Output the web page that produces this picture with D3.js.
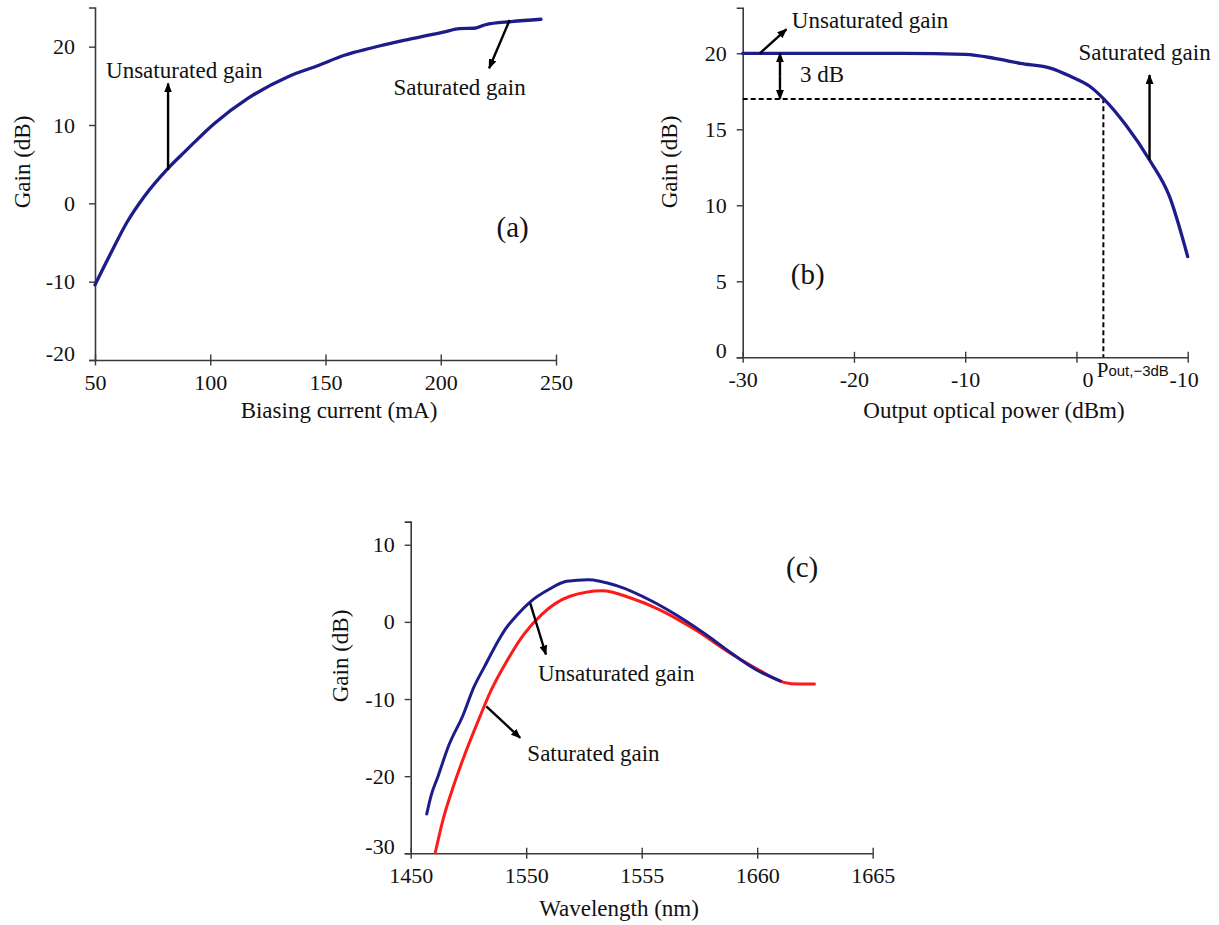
<!DOCTYPE html>
<html>
<head>
<meta charset="utf-8">
<script src="https://cdn.jsdelivr.net/npm/d3@7"></script>
<style>
  html, body { margin: 0; padding: 0; background: #fff; }
  svg { display: block; }
  svg text { font-family: "Liberation Serif", "Times New Roman", Times, "DejaVu Serif", serif !important; fill: #111; }
  svg text tspan.sub { font-family: "Liberation Sans", "DejaVu Sans", sans-serif !important; }
</style>
</head>
<body>
<svg id="chart" width="1219" height="925"></svg>
<script>
// ---------- DATA ----------
// (a) Gain vs biasing current
const aCurrent = [50, 56.8, 64, 71.3, 81.7, 89, 101.8, 116.3, 134, 146.9, 158.2, 169.5, 185.6, 201.7, 208.1, 214.6, 219.4, 230.6, 243.5];
const aGain    = [-10.4, -6.4, -2.35, 0.85, 4.47, 6.6, 10.2, 13.4, 16.2, 17.6, 18.9, 19.8, 20.9, 21.9, 22.3, 22.35, 22.8, 23.2, 23.5];
const aXTicks = [50, 100, 150, 200, 250];
const aYTicks = [-20, -10, 0, 10, 20];

// (b) Gain vs output optical power
const bPower = [-30, -15.5, -10, -7.35, -5.06, -2.27, -0.47, 1.16, 2.47, 4.44, 6.57, 8.37, 10];
const bGain  = [20, 20, 19.93, 19.67, 19.34, 19.01, 18.46, 17.85, 16.99, 15.28, 12.98, 10.57, 6.62];
const bXTicks = [-30, -20, -10, 0, 10];
const bXTickLabels = ["-30", "-20", "-10", "0", "-10"];
const bYTicks = [0, 5, 10, 15, 20];
const bUnsatGain = 20;
const bSat3dBGain = 17;
const bPout3dB = 2.42;

// (c) Gain vs wavelength (axis ticks are equally spaced positions)
const cTickPos = [0, 1, 2, 3, 4];
const cTickLabels = ["1450", "1550", "1555", "1660", "1665"];
const cYTicks = [-30, -20, -10, 0, 10];
const cUnsatPos  = [0.139, 0.176, 0.237, 0.330, 0.453, 0.546, 0.639, 0.732, 0.824, 0.917, 1.041, 1.195, 1.350, 1.535, 1.782, 2.091, 2.307, 2.616, 2.771, 2.987, 3.203];
const cUnsatGain = [-24.9, -22.55, -20.0, -16.0, -12.1, -8.5, -5.8, -3.15, -0.85, 0.82, 2.67, 4.19, 5.26, 5.47, 4.7, 2.67, 0.82, -2.28, -4.0, -6.17, -7.67];
const cSatPos  = [0.213, 0.284, 0.361, 0.453, 0.577, 0.700, 0.824, 0.978, 1.133, 1.379, 1.658, 1.905, 2.152, 2.461, 2.771, 3.017, 3.234, 3.357, 3.496];
const cSatGain = [-29.9, -25.4, -21.7, -17.8, -13.1, -8.75, -5.3, -1.65, 0.95, 3.32, 4.05, 3.1, 1.6, -1.0, -4.1, -6.25, -7.85, -8.05, -8.05];

// ---------- DRAWING ----------
const svg = d3.select("#chart");
const NAVY = "#1c1c8a", RED = "#ff1a1a", AXIS = "#3a3a3a";
const fmt = d => String(d); // plain hyphen-minus like the reference

const defs = svg.append("defs");
defs.append("marker").attr("id", "ah")
  .attr("viewBox", "0 0 10 8").attr("refX", 9).attr("refY", 4)
  .attr("markerWidth", 10).attr("markerHeight", 8)
  .attr("markerUnits", "userSpaceOnUse").attr("orient", "auto-start-reverse")
  .append("path").attr("d", "M0,0 L10,4 L0,8 Z").attr("fill", "#000");

function panel(o) {
  const x = d3.scaleLinear().domain(o.xDomain).range(o.xRange);
  const y = d3.scaleLinear().domain(o.yDomain).range(o.yRange);
  const g = svg.append("g");
  const y0 = o.yRange[0];

  // x axis
  const xa = g.append("g").attr("transform", `translate(0,${y0})`)
    .call(d3.axisBottom(x).tickValues(o.xTicks).tickSize(0)
      .tickFormat((d, i) => o.xLabels ? o.xLabels[i] : fmt(d)));
  xa.attr("font-family", null).attr("font-size", null);
  xa.select(".domain").attr("stroke", AXIS).attr("stroke-width", 1.6);
  xa.selectAll(".tick").append("line").attr("y1", -5.5).attr("y2", 5.5)
    .attr("stroke", AXIS).attr("stroke-width", 1.4);
  xa.selectAll(".tick text").attr("y", 14).attr("dy", "0.71em")
    .style("font-size", "22px").attr("fill", "#111");
  if (o.xLabelDx) xa.selectAll(".tick text").attr("dx", (d, i) => o.xLabelDx[i] || 0);

  // y axis
  const ya = g.append("g").attr("transform", `translate(${o.xRange[0]},0)`)
    .call(d3.axisLeft(y).tickValues(o.yTicks).tickSize(6).tickPadding(o.yPad).tickFormat(fmt));
  ya.attr("font-family", null).attr("font-size", null);
  ya.select(".domain").attr("stroke", AXIS).attr("stroke-width", 1.6);
  ya.selectAll(".tick line").attr("stroke", AXIS).attr("stroke-width", 1.4);
  ya.selectAll(".tick text").style("font-size", "22px")
    .attr("fill", "#111").attr("dy", (d) => d === o.yDomain[0] ? "0.0em" : "0.32em");

  // axis titles
  g.append("text").attr("x", o.xTitlePos[0]).attr("y", o.xTitlePos[1])
    .attr("text-anchor", "middle").style("font-size", "23px").text(o.xTitle);
  g.append("text").attr("transform", `translate(${o.yTitlePos[0]},${o.yTitlePos[1]}) rotate(-90)`)
    .attr("text-anchor", "middle").style("font-size", "23px").text("Gain (dB)");

  // panel label
  g.append("text").attr("x", x(o.tag[0])).attr("y", y(o.tag[1]))
    .style("font-size", "29px").text(o.tag[2]);

  return { g, x, y };
}

function drawLine(p, xs, ys, color, w) {
  const pts = xs.map((v, i) => [v, ys[i]]);
  p.g.append("path").datum(pts)
    .attr("fill", "none").attr("stroke", color).attr("stroke-width", w)
    .attr("stroke-linejoin", "round").attr("stroke-linecap", "round")
    .attr("d", d3.line().x(d => p.x(d[0])).y(d => p.y(d[1])).curve(d3.curveMonotoneX));
}

function arrow(p, x1, y1, x2, y2, both) {
  const l = p.g.append("line")
    .attr("x1", p.x(x1)).attr("y1", p.y(y1)).attr("x2", p.x(x2)).attr("y2", p.y(y2))
    .attr("stroke", "#000").attr("stroke-width", 2.4).attr("marker-end", "url(#ah)");
  if (both) l.attr("marker-start", "url(#ah)");
}

function label(p, xv, yv, txt, size) {
  p.g.append("text").attr("x", p.x(xv)).attr("y", p.y(yv))
    .style("font-size", (size || 23) + "px").text(txt);
}

// ----- (a) -----
const pa = panel({
  xDomain: [50, 250], xRange: [95, 556],
  yDomain: [-20, 25], yRange: [360, 7.5],
  xTicks: aXTicks, yTicks: aYTicks, yPad: 14,
  xTitle: "Biasing current (mA)", xTitlePos: [339, 418],
  yTitlePos: [30, 162],
  tag: [224.2, -4.3, "(a)"]
});
drawLine(pa, aCurrent, aGain, NAVY, 3.3);
arrow(pa, 81.7, 4.25, 81.7, 15.3);
label(pa, 54.8, 16.0, "Unsaturated gain");
arrow(pa, 229.9, 23.4, 221.0, 17.25);
label(pa, 179.5, 13.8, "Saturated gain");

// ----- (b) -----
const pb = panel({
  xDomain: [-30, 10], xRange: [742.7, 1187.7],
  yDomain: [0, 23], yRange: [357.3, 7.7],
  xTicks: bXTicks, xLabels: bXTickLabels, xLabelDx: [0, 0, 0, 11, -4], yTicks: bYTicks, yPad: 10,
  xTitle: "Output optical power (dBm)", xTitlePos: [994, 418],
  yTitlePos: [677, 162],
  tag: [-25.68, 4.82, "(b)"]
});
// dashed -3 dB guide lines
pb.g.append("path")
  .attr("d", `M${pb.x(-30)},${pb.y(bSat3dBGain)} H${pb.x(bPout3dB)} V${pb.y(0)}`)
  .attr("fill", "none").attr("stroke", "#000").attr("stroke-width", 2).attr("stroke-dasharray", "5,3");
drawLine(pb, bPower, bGain, NAVY, 3.3);
arrow(pb, -28.46, 20.0, -26.07, 21.58);
label(pb, -25.58, 21.64, "Unsaturated gain");
arrow(pb, -26.65, 18.5, -26.65, bSat3dBGain);
arrow(pb, -26.65, 18.5, -26.65, bUnsatGain);
label(pb, -24.86, 18.13, "3 dB");
arrow(pb, 6.57, 12.98, 6.57, 18.57);
label(pb, 0.18, 19.56, "Saturated gain");
// P_out,-3dB label
const pl = pb.g.append("text").attr("x", pb.x(1.82)).attr("y", pb.y(-1.3));
pl.append("tspan").style("font-size", "21px").text("P");
pl.append("tspan").attr("class", "sub").attr("dy", -1).style("font-size", "15px").text("out,\u22123dB");

// ----- (c) -----
const pc = panel({
  xDomain: [0, 4], xRange: [410.7, 872.7],
  yDomain: [-30, 13], yRange: [853.3, 521.6],
  xTicks: cTickPos, xLabels: cTickLabels, yTicks: cYTicks, yPad: 10,
  xTitle: "Wavelength (nm)", xTitlePos: [619, 916],
  yTitlePos: [348, 656],
  tag: [3.25, 5.85, "(c)"]
});
drawLine(pc, cSatPos, cSatGain, RED, 3);
drawLine(pc, cUnsatPos, cUnsatGain, NAVY, 3);
arrow(pc, 1.035, 2.4, 1.171, -4.23);
label(pc, 1.102, -7.7, "Unsaturated gain");
arrow(pc, 0.655, -10.95, 0.948, -15.04);
label(pc, 1.01, -18.03, "Saturated gain");
</script>
</body>
</html>
